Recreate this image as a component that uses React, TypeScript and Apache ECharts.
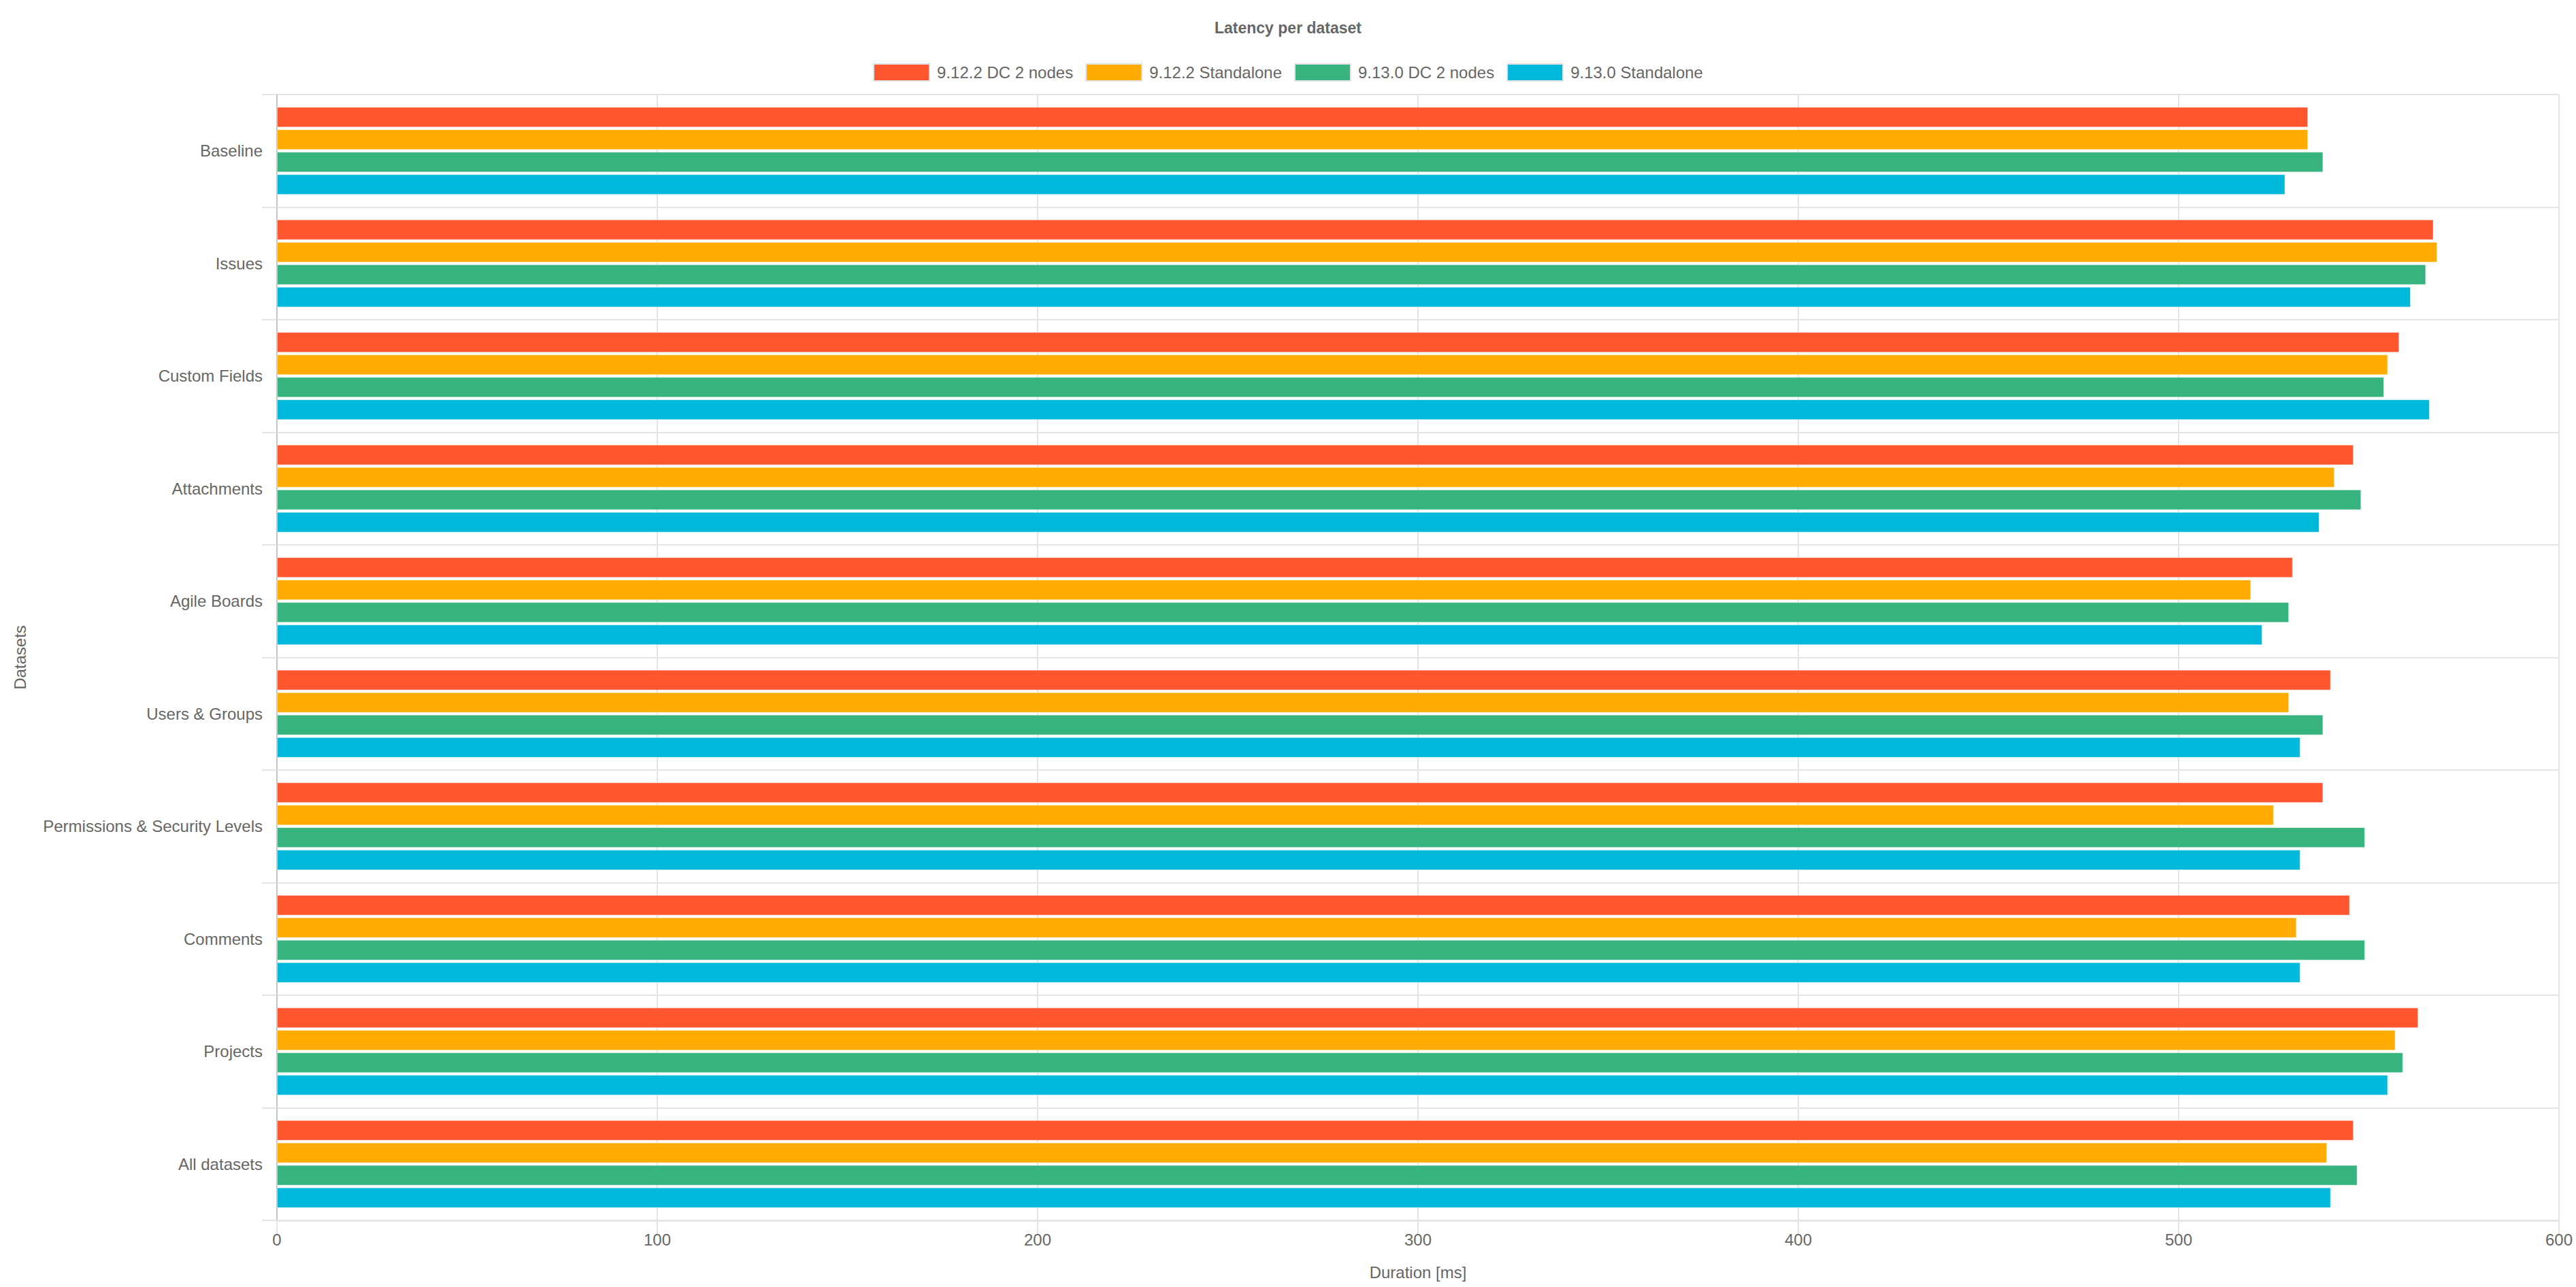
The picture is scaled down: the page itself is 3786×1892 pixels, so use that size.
import React, { useEffect, useRef } from "react";
import * as echarts from "echarts";

const categories = [
  "Baseline",
  "Issues",
  "Custom Fields",
  "Attachments",
  "Agile Boards",
  "Users & Groups",
  "Permissions & Security Levels",
  "Comments",
  "Projects",
  "All datasets",
];

const seriesNames = [
  "9.12.2 DC 2 nodes",
  "9.12.2 Standalone",
  "9.13.0 DC 2 nodes",
  "9.13.0 Standalone",
];

const dc9122 = [534, 567, 558, 546, 530, 540, 538, 545, 563, 546];
const sa9122 = [534, 568, 555, 541, 519, 529, 525, 531, 557, 539];
const dc9130 = [538, 565, 554, 548, 529, 538, 549, 549, 559, 547];
const sa9130 = [528, 561, 566, 537, 522, 532, 532, 532, 555, 540];

const colors = ["#FF5630", "#FFAB00", "#36B37E", "#00B8D9"];

const FONT = "'Liberation Sans', Arial, Helvetica, sans-serif";

export default function App() {
  const ref = useRef<HTMLDivElement>(null);

  useEffect(() => {
    if (!ref.current) return;
    const chart = echarts.init(ref.current, null, { renderer: "svg" });
    const values = [dc9122, sa9122, dc9130, sa9130];
    chart.setOption({
      animation: false,
      backgroundColor: "#ffffff",
      textStyle: { fontFamily: FONT },
      title: {
        text: "Latency per dataset",
        left: "center",
        top: 24,
        textStyle: {
          fontFamily: FONT,
          fontSize: 23,
          fontWeight: "bold",
          color: "#666666",
        },
      },
      legend: {
        top: 88,
        left: "center",
        itemWidth: 82,
        itemHeight: 25,
        itemGap: 18,
        icon: "rect",
        data: seriesNames,
        itemStyle: { borderColor: "#e4e4e4", borderWidth: 2 },
        textStyle: {
          fontFamily: FONT,
          fontSize: 24,
          color: "#666666",
          padding: [0, 0, 0, 6],
        },
      },
      grid: {
        left: 407,
        right: 25,
        top: 139,
        bottom: 98,
        containLabel: false,
      },
      xAxis: {
        type: "value",
        min: 0,
        max: 600,
        interval: 100,
        name: "Duration [ms]",
        nameLocation: "middle",
        nameGap: 64,
        nameTextStyle: { fontFamily: FONT, fontSize: 24, color: "#666666" },
        axisLine: { show: true, lineStyle: { color: "#e4e4e4", width: 3 } },
        axisTick: { show: true, length: 20, lineStyle: { color: "#e4e4e4", width: 2 } },
        axisLabel: { fontFamily: FONT, fontSize: 24, color: "#666666", margin: 16 },
        splitLine: { show: true, lineStyle: { color: "#e4e4e4", width: 2 } },
      },
      yAxis: {
        type: "category",
        inverse: true,
        data: categories,
        name: "Datasets",
        nameLocation: "middle",
        nameRotate: 90,
        nameGap: 366,
        nameTextStyle: { fontFamily: FONT, fontSize: 24, color: "#666666" },
        axisLine: { show: true, lineStyle: { color: "#c4c4c4", width: 2 } },
        axisTick: {
          show: true,
          length: 22,
          alignWithLabel: false,
          lineStyle: { color: "#e4e4e4", width: 2 },
        },
        axisLabel: { fontFamily: FONT, fontSize: 24, color: "#666666", margin: 21 },
        splitLine: { show: true, lineStyle: { color: "#e4e4e4", width: 2 } },
      },
      series: seriesNames.map((name, i) => ({
        name,
        type: "bar",
        data: values[i],
        barWidth: 30,
        barGap: "10%",
        itemStyle: {
          color: colors[i],
          borderColor: "rgba(255,255,255,0.45)",
          borderWidth: 1,
        },
      })),
    });
    return () => chart.dispose();
  }, []);

  return (
    <div
      ref={ref}
      style={{ position: "fixed", left: 0, top: 0, width: 3786, height: 1892 }}
    />
  );
}
